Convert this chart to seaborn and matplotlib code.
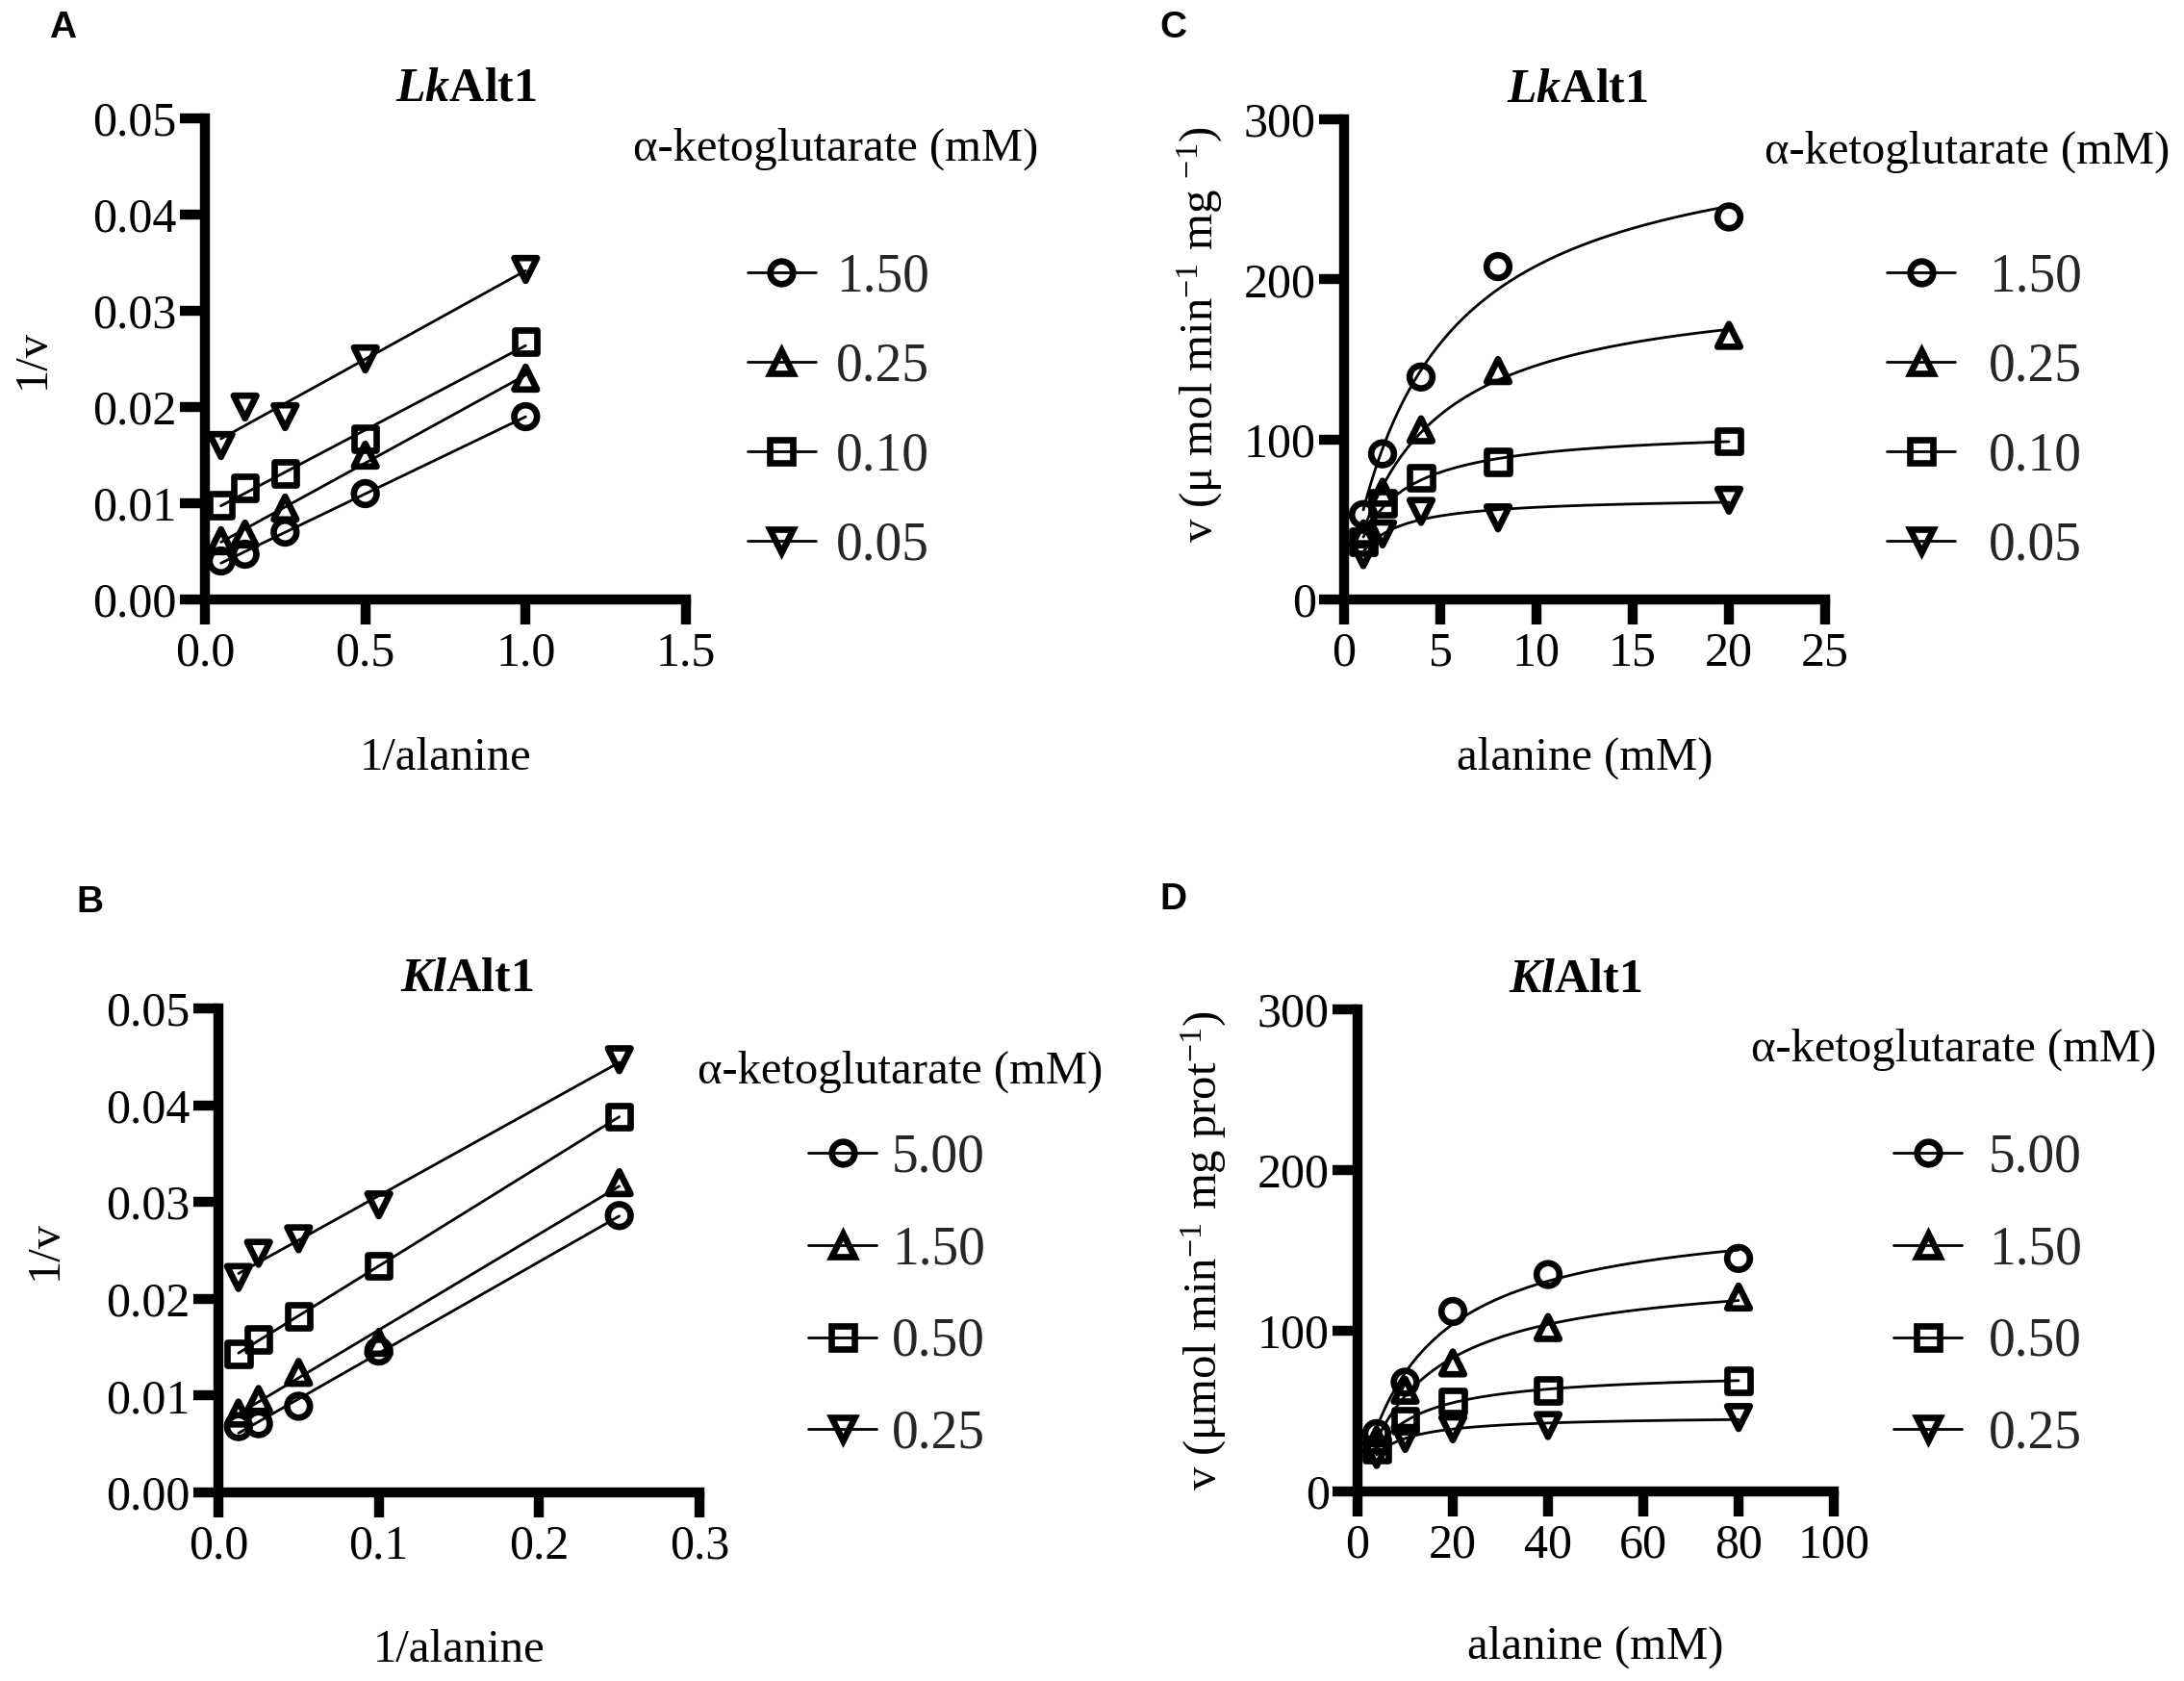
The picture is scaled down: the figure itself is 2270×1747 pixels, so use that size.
import numpy as np
import pandas as pd
import matplotlib
matplotlib.use("Agg")
import matplotlib.pyplot as plt
import seaborn as sns
from matplotlib.lines import Line2D
from matplotlib.ticker import FormatStrFormatter, MultipleLocator

# ---------------- data ----------------
markers_list = ["o", "^", "s", "v"]

# Panel A: LkAlt1, Lineweaver-Burk
a_inv_alanine = [0.05, 0.125, 0.25, 0.5, 1.0]
a_labels = ["1.50", "0.25", "0.10", "0.05"]
a_inv_v_150 = [0.0040, 0.0047, 0.0070, 0.0110, 0.0190]
a_inv_v_025 = [0.0061, 0.0068, 0.0095, 0.0150, 0.0230]
a_inv_v_010 = [0.0098, 0.0116, 0.0131, 0.0167, 0.0268]
a_inv_v_005 = [0.0160, 0.0200, 0.0190, 0.0250, 0.0343]

# Panel C: LkAlt1, Michaelis-Menten
c_alanine = [1, 2, 4, 8, 20]
c_labels = ["1.50", "0.25", "0.10", "0.05"]
c_v_150 = [53, 91, 139, 208, 239]
c_v_025 = [41, 67, 106, 143, 165]
c_v_010 = [36, 60, 76, 86, 99]
c_v_005 = [28, 41, 55, 51, 62]

# Panel B: KlAlt1, Lineweaver-Burk
b_inv_alanine = [0.0125, 0.025, 0.05, 0.1, 0.25]
b_labels = ["5.00", "1.50", "0.50", "0.25"]
b_inv_v_500 = [0.0068, 0.0071, 0.0089, 0.0146, 0.0286]
b_inv_v_150 = [0.0082, 0.0096, 0.0124, 0.0155, 0.0320]
b_inv_v_050 = [0.0143, 0.0158, 0.0182, 0.0234, 0.0388]
b_inv_v_025 = [0.0222, 0.0247, 0.0262, 0.0297, 0.0447]

# Panel D: KlAlt1, Michaelis-Menten
d_alanine = [4, 10, 20, 40, 80]
d_labels = ["5.00", "1.50", "0.50", "0.25"]
d_v_500 = [36, 68, 112, 135, 145]
d_v_150 = [32, 63, 80, 102, 121]
d_v_050 = [26, 44, 56, 63, 69]
d_v_025 = [23, 33, 39, 41, 46]

legend_title = "α-ketoglutarate (mM)"

# ---------------- style ----------------
sns.set_theme(style="ticks")
plt.rcParams["font.family"] = ["Liberation Serif", "DejaVu Serif"]
plt.rcParams["mathtext.fontset"] = "custom"
plt.rcParams["mathtext.rm"] = "Liberation Serif"
plt.rcParams["mathtext.it"] = "Liberation Serif:italic"
plt.rcParams["mathtext.bf"] = "Liberation Serif:bold"
plt.rcParams["mathtext.bfit"] = "Liberation Serif:italic:bold"

W, H, DPI = 2270, 1747, 100
FS = 35          # axis labels
TICK_FS = 36     # tick labels
LEG_FS = 40      # legend entries
MS = 17
MEW = 4.8
LW = 2.0
SPINE_W = 7.5

fig = plt.figure(figsize=(W / DPI, H / DPI), dpi=DPI)
fig.patch.set_facecolor("white")


def px_axes(left, top, right, bottom):
    return fig.add_axes([left / W, 1 - bottom / H, (right - left) / W, (bottom - top) / H])


def mm_fit(s, v):
    s = np.asarray(s, float)
    v = np.asarray(v, float)
    kms = np.linspace(0.05, 80, 16000)
    f = s[None, :] / (kms[:, None] + s[None, :])
    vmax = (f * v).sum(1) / (f * f).sum(1)
    sse = ((v[None, :] - vmax[:, None] * f) ** 2).sum(1)
    i = np.argmin(sse)
    return kms[i], vmax[i]


def draw_panel(ax, x, series, labels, kind, xlim, ylim, xstep, ystep, xfmt, yfmt,
               title, title_x, xlabel, xlabel_y, ylabel, ylabel_x, ylabel_y=0.5):
    rows = []
    for lab, ys in zip(labels, series):
        for xi, yi in zip(x, ys):
            rows.append({"x": xi, "y": yi, "conc": lab})
    df = pd.DataFrame(rows)

    for lab, ys in zip(labels, series):
        xf = np.linspace(min(x), max(x), 400)
        if kind == "lb":
            k, b0 = np.polyfit(x, ys, 1)
            yf = k * xf + b0
        else:
            km, vmax = mm_fit(x, ys)
            yf = vmax * xf / (km + xf)
        sns.lineplot(x=xf, y=yf, color="black", lw=LW, ax=ax, zorder=2)

    sns.scatterplot(data=df, x="x", y="y", style="conc", style_order=labels,
                    markers=dict(zip(labels, markers_list)), s=MS ** 2,
                    facecolor="none", edgecolor="black", linewidth=MEW,
                    legend=False, ax=ax, zorder=3, clip_on=False)

    ax.set_xlim(*xlim)
    ax.set_ylim(*ylim)
    ax.xaxis.set_major_locator(MultipleLocator(xstep))
    ax.yaxis.set_major_locator(MultipleLocator(ystep))
    ax.xaxis.set_major_formatter(FormatStrFormatter(xfmt))
    ax.yaxis.set_major_formatter(FormatStrFormatter(yfmt))
    sns.despine(ax=ax)
    for sp in ("left", "bottom"):
        ax.spines[sp].set_linewidth(SPINE_W)
        ax.spines[sp].set_color("black")
    ax.tick_params(axis="both", which="major", direction="out", length=19,
                   width=SPINE_W, color="black", labelsize=TICK_FS, labelcolor="black")
    ax.tick_params(axis="x", pad=5)
    ax.tick_params(axis="y", pad=2)
    ax.set_facecolor("white")
    ax.grid(False)

    ax.set_title(title, fontsize=36, x=title_x, pad=13, color="black")
    ax.set_xlabel(xlabel, fontsize=FS, va="baseline", color="black")
    ax.xaxis.set_label_coords(0.5, xlabel_y)
    ax.set_ylabel(ylabel, fontsize=FS, ha="center", va="center", color="black")
    ax.yaxis.set_label_coords(ylabel_x, ylabel_y)


def draw_legend(ax, labels, handle_left, center_y, spacing, label_left, title_left, title_base):
    handle_len_px = 71
    fs_px = LEG_FS * DPI / 72
    handles = [Line2D([], [], color="black", lw=LW, marker=m, ms=MS, mew=MEW,
                      mfc="none", mec="black") for m in markers_list]
    ax.legend(handles, labels, loc="center left",
              bbox_to_anchor=(handle_left / W, 1 - center_y / H),
              bbox_transform=fig.transFigure, frameon=False, fontsize=LEG_FS,
              handlelength=handle_len_px / fs_px,
              handletextpad=(label_left - handle_left - handle_len_px) / fs_px,
              labelspacing=spacing, borderpad=0, borderaxespad=0)
    fig.text(title_left / W, 1 - title_base / H, legend_title, fontsize=35,
             ha="left", va="baseline", color="black")


title_lk = r"$\mathbfit{Lk}\mathbf{Alt1}$"
title_kl = r"$\mathbfit{Kl}\mathbf{Alt1}$"

# Panel A
axA = px_axes(213, 123, 713, 623)
draw_panel(axA, a_inv_alanine, [a_inv_v_150, a_inv_v_025, a_inv_v_010, a_inv_v_005],
           a_labels, "lb", (0, 1.5), (0, 0.05), 0.5, 0.01, "%.1f", "%.2f",
           title_lk, 0.542, "1/alanine", -0.354, "1/v", -0.358)
draw_legend(axA, a_labels, 777, 428, 0.735, 869, 658, 167)

# Panel C
axC = px_axes(1397, 124, 1897, 623)
draw_panel(axC, c_alanine, [c_v_150, c_v_025, c_v_010, c_v_005],
           c_labels, "mm", (0, 25), (0, 300), 5, 100, "%d", "%d",
           title_lk, 0.484, "alanine (mM)", -0.354,
           r"v (μ mol min$^{-1}$ mg $^{-1}$)", -0.30, 0.552)
draw_legend(axC, c_labels, 1961, 428, 0.735, 2067, 1834, 170)

# Panel B
axB = px_axes(227, 1048, 727, 1551)
draw_panel(axB, b_inv_alanine, [b_inv_v_500, b_inv_v_150, b_inv_v_050, b_inv_v_025],
           b_labels, "lb", (0, 0.3), (0, 0.05), 0.1, 0.01, "%.1f", "%.2f",
           title_kl, 0.516, "1/alanine", -0.35, "1/v", -0.36)
draw_legend(axB, b_labels, 840, 1347, 0.79, 927, 725, 1126)

# Panel D
axD = px_axes(1411, 1049, 1906, 1550)
draw_panel(axD, d_alanine, [d_v_500, d_v_150, d_v_050, d_v_025],
           d_labels, "mm", (0, 100), (0, 300), 20, 100, "%d", "%d",
           title_kl, 0.457, "alanine (mM)", -0.347,
           r"v (μmol min$^{-1}$ mg prot$^{-1}$)", -0.322)
draw_legend(axD, d_labels, 1968, 1347, 0.79, 2067, 1820, 1103)

# Panel letters
for letter, (lx, ly) in {"A": (51, 39), "C": (1205, 39), "B": (79, 948), "D": (1205, 945)}.items():
    fig.text(lx / W, 1 - ly / H, letter, fontsize=28, fontweight="bold",
             family=["Liberation Sans", "DejaVu Sans"], ha="left", va="baseline", color="black")

fig.savefig("out.png", dpi=DPI, facecolor="white")
